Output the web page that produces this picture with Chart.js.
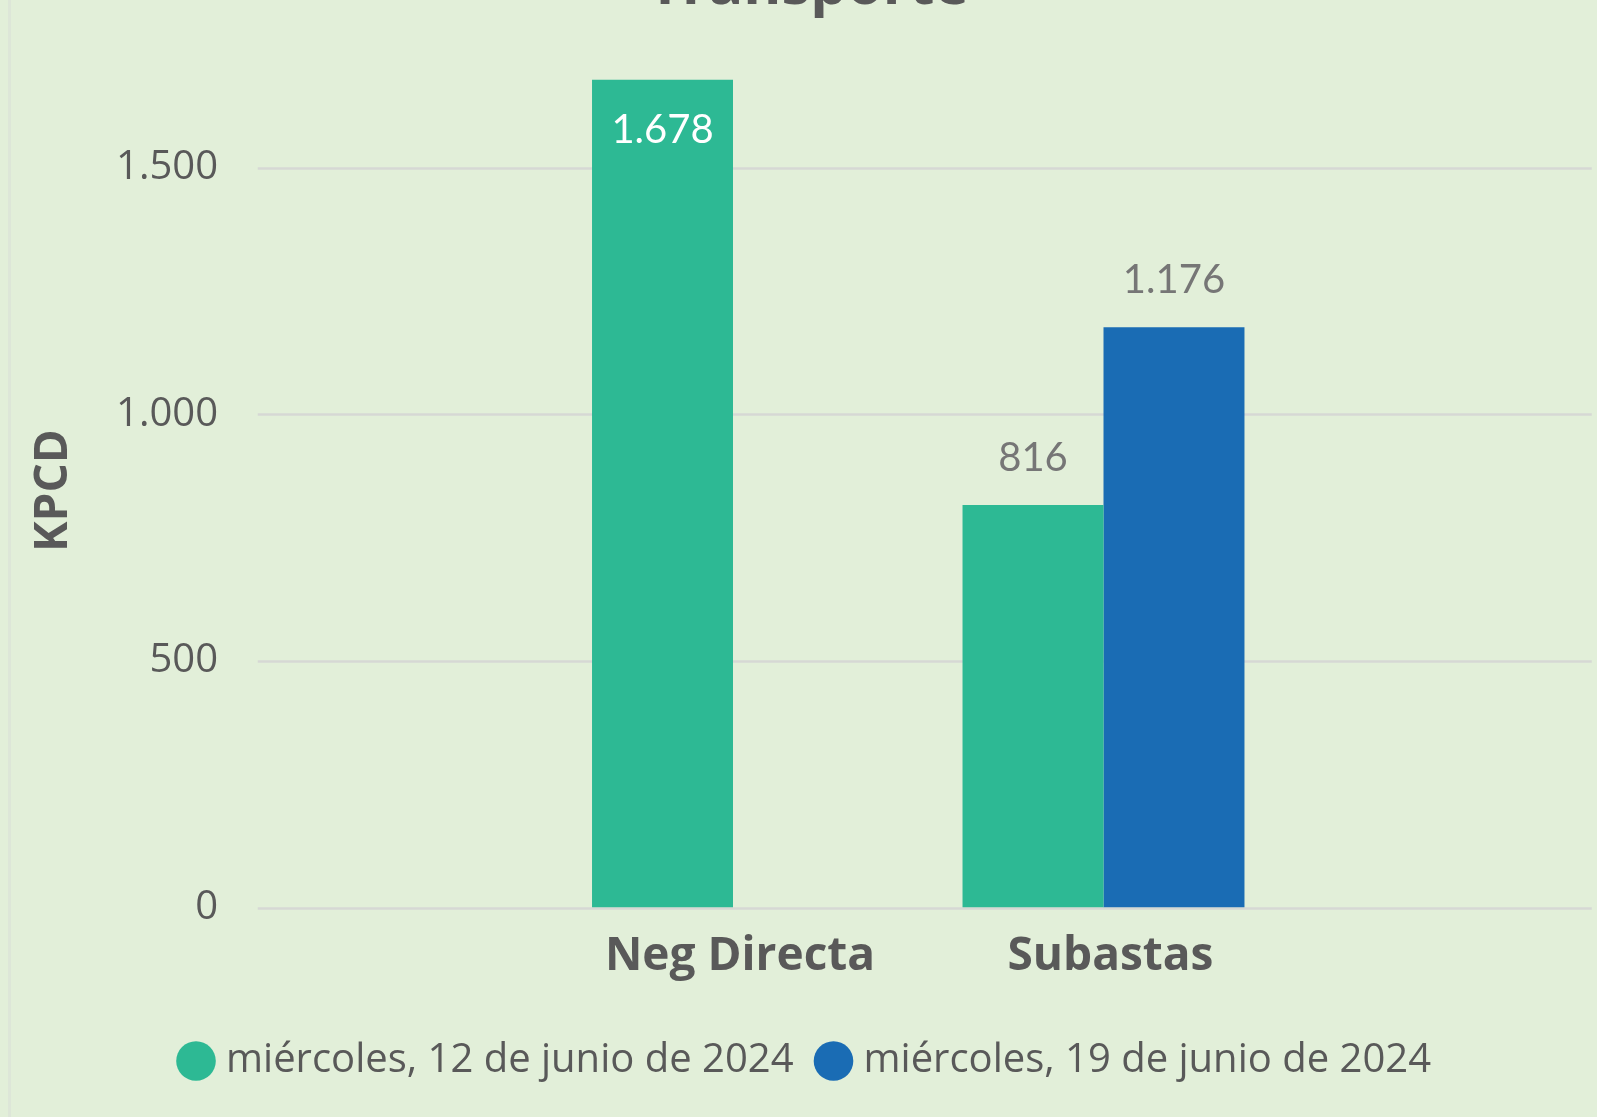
<!DOCTYPE html>
<html>
<head>
<meta charset="utf-8">
<script src="https://cdn.jsdelivr.net/npm/chart.js@4/dist/chart.umd.min.js"></script>
<style>
    html, body { margin: 0; padding: 0; overflow: hidden; background: #E2EFD9; width: 1597px; height: 1117px; }
    #chartTransporte { position: absolute; left: 0; top: -60px; }
    #edge { position: absolute; left: 8px; top: 0; width: 3px; height: 1117px; background: #dde6d8; }
</style>
</head>
<body>
<div id="edge"></div>
<canvas id="chartTransporte" width="1597" height="1177"></canvas>
<script>
const categorias = ['Neg Directa', 'Subastas'];
const serie12Jun = [1678, 816];
const serie19Jun = [null, 1176];
const nombresSeries = ['miércoles, 12 de junio de 2024', 'miércoles, 19 de junio de 2024'];
const ticksY = [0, 500, 1000, 1500];

function fmt(v) {
    return String(Math.round(v)).replace(/\B(?=(\d{3})+(?!\d))/g, '.');
}

// gridlines wider than the plot area, like the original
const gridPlugin = {
    id: 'gridAncho',
    beforeDatasetsDraw(chart) {
        const { ctx, chartArea } = chart;
        const y = chart.scales.y;
        ctx.save();
        ctx.strokeStyle = '#D6D8D4';
        ctx.lineWidth = 2.5;
        ticksY.forEach(function (t) {
            const py = Math.round(y.getPixelForValue(t)) + 0.5;
            ctx.beginPath();
            ctx.moveTo(chartArea.left - 290, py);
            ctx.lineTo(chartArea.right + 303, py);
            ctx.stroke();
        });
        ctx.restore();
    },
};

// etiquetas de datos
const labelsPlugin = {
    id: 'etiquetas',
    afterDatasetsDraw(chart) {
        const { ctx, chartArea } = chart;
        ctx.save();
        ctx.font = '40px Lato';
        ctx.textAlign = 'center';
        ctx.textBaseline = 'middle';
        chart.data.datasets.forEach(function (ds, i) {
            chart.getDatasetMeta(i).data.forEach(function (bar, j) {
                const v = ds.data[j];
                if (v == null) return;
                if (bar.y - 75 < chartArea.top) {
                    ctx.fillStyle = '#FFFFFF';
                    ctx.fillText(fmt(v), bar.x, bar.y + 50);
                } else {
                    ctx.fillStyle = '#767676';
                    ctx.fillText(fmt(v), bar.x, bar.y - 47);
                }
            });
        });
        ctx.restore();
    },
};

const ejeVacio = {
    type: 'linear',
    grid: { display: false },
    border: { display: false },
    ticks: { display: false },
};

new Chart(document.getElementById('chartTransporte'), {
    type: 'bar',
    data: {
        labels: categorias,
        datasets: [
            {
                label: nombresSeries[0],
                data: serie12Jun,
                backgroundColor: '#2DB994',
                borderWidth: 0,
            },
            {
                label: nombresSeries[1],
                data: serie19Jun,
                backgroundColor: '#1A6CB4',
                borderWidth: 0,
            },
        ],
    },
    options: {
        responsive: false,
        animation: false,
        layout: {
            padding: { left: 20, right: 0, top: 0, bottom: 26 },
        },
        datasets: {
            bar: { categoryPercentage: 0.761, barPercentage: 1.0 },
        },
        plugins: {
            tooltip: { enabled: false },
            title: {
                display: true,
                text: 'Transporte',
                color: '#595959',
                font: { family: 'Open Sans', size: 58, weight: 'bold' },
                padding: { top: 12.7, bottom: 51.5 },
            },
            legend: {
                position: 'bottom',
                labels: {
                    usePointStyle: true,
                    pointStyle: 'circle',
                    boxWidth: 20,
                    boxHeight: 28,
                    padding: 30,
                    color: '#595959',
                    font: { family: 'Open Sans', size: 40 },
                },
            },
        },
        scales: {
            x: {
                grid: { display: false, drawTicks: false },
                border: { display: false },
                ticks: {
                    padding: 21.5,
                    labelOffset: 7,
                    color: '#595959',
                    font: { family: 'Open Sans', size: 46, weight: 'bold' },
                },
                afterFit(s) { s.height = 103.5; },
            },
            y: {
                position: 'left',
                weight: 1,
                min: 0,
                max: 1690,
                grid: { display: false, drawTicks: false },
                border: { display: false },
                ticks: {
                    padding: 8,
                    color: '#595959',
                    font: { family: 'Open Sans', size: 40 },
                    callback: function (v) { return fmt(v); },
                },
                afterBuildTicks(s) {
                    s.ticks = ticksY.map(function (v) { return { value: v }; });
                },
                title: {
                    display: true,
                    text: 'KPCD',
                    color: '#595959',
                    font: { family: 'Open Sans', size: 46, weight: 'bold' },
                    padding: { top: 6, bottom: 0 },
                },
                afterFit(s) { s.width = 206; },
            },
            hueco: Object.assign({}, ejeVacio, {
                position: 'left',
                weight: 0,
                afterFit(s) { s.width = 321.75; },
            }),
            derecha: Object.assign({}, ejeVacio, {
                position: 'right',
                afterFit(s) { s.width = 308.25; },
            }),
        },
    },
    plugins: [gridPlugin, labelsPlugin],
});
</script>
</body>
</html>
